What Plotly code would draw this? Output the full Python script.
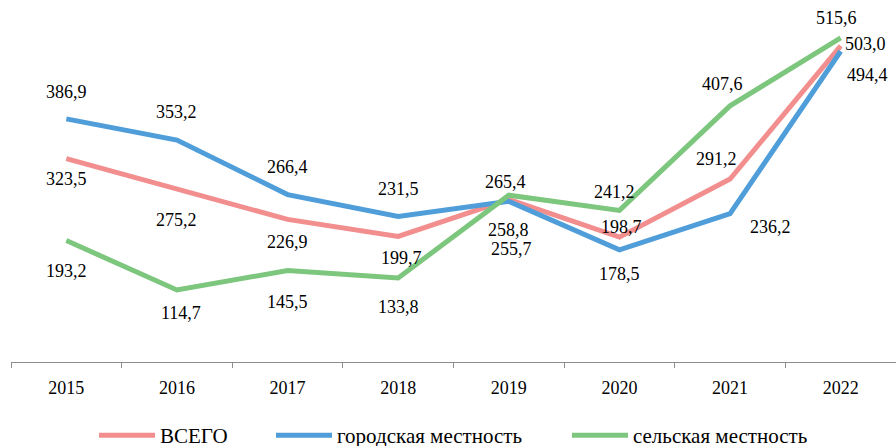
import plotly.graph_objects as go

years = ["2015", "2016", "2017", "2018", "2019", "2020", "2021", "2022"]
total = [323.5, 275.2, 226.9, 199.7, 258.8, 198.7, 291.2, 503.0]
urban = [386.9, 353.2, 266.4, 231.5, 255.7, 178.5, 236.2, 494.4]
rural = [193.2, 114.7, 145.5, 133.8, 265.4, 241.2, 407.6, 515.6]

# label offsets in px (dx, dy), dy positive = up
total_shift = [(0, -20), (0, -31), (0, -23), (3, -22), (0, -31), (2, 10), (-14, 20), (25, 2)]
urban_shift = [(0, 27), (0, 28), (0, 28), (0, 28), (3, -48), (0, -24), (40, -13), (27, -24)]
rural_shift = [(0, -30), (4, -23), (0, -31), (0, -29), (-3, 13), (-5, 18), (-8, 22), (-4, 20)]

series = [
    ("ВСЕГО", total, "#F28E8E", total_shift, "legend", 0.0938),
    ("городская местность", urban, "#4F9DD9", urban_shift, "legend2", 0.2938),
    ("сельская местность", rural, "#7DC67D", rural_shift, "legend3", 0.6282),
]

SERIF = "Liberation Serif"

fig = go.Figure()
legends = {}
for name, values, color, shifts, leg, lx in series:
    fig.add_trace(go.Scatter(x=years, y=values, name=name, mode="lines",
                             line=dict(color=color, width=5),
                             legend=leg))
    legends[leg] = dict(orientation="h", x=lx, xanchor="left", y=-0.203, yanchor="middle",
                        font=dict(size=21, family=SERIF, color="black"),
                        itemwidth=56, itemclick=False, bgcolor="rgba(0,0,0,0)")
    for i, (v, (dx, dy)) in enumerate(zip(values, shifts)):
        fig.add_annotation(x=i, y=v, xref="x", yref="y",
                           text=f"{v:.1f}".replace(".", ","),
                           showarrow=False, xshift=dx, yshift=dy,
                           font=dict(size=18, color="black", family=SERIF))

fig.update_layout(
    width=896, height=446,
    margin=dict(l=11, r=0, t=0, b=84, autoexpand=False),
    plot_bgcolor="white", paper_bgcolor="white",
    font=dict(family=SERIF, size=18, color="black"),
    showlegend=True,
    xaxis=dict(type="category", showline=True, linecolor="#8C8C8C", linewidth=1.3,
               ticks="outside", tickson="boundaries", ticklen=5, tickcolor="#8C8C8C",
               ticklabelstandoff=9,
               showgrid=False, tickfont=dict(size=18, family=SERIF), range=[-0.5, 7.5]),
    yaxis=dict(range=[0, 576], showticklabels=False, ticks="", showline=False,
               showgrid=False, zeroline=False),
    **legends,
)

fig.write_html("out.html", config={"displayModeBar": False},
               post_script="document.body.style.margin='0';"
                           "Plotly.relayout(document.getElementById('{plot_id}'), {width: 896, height: 446});")
